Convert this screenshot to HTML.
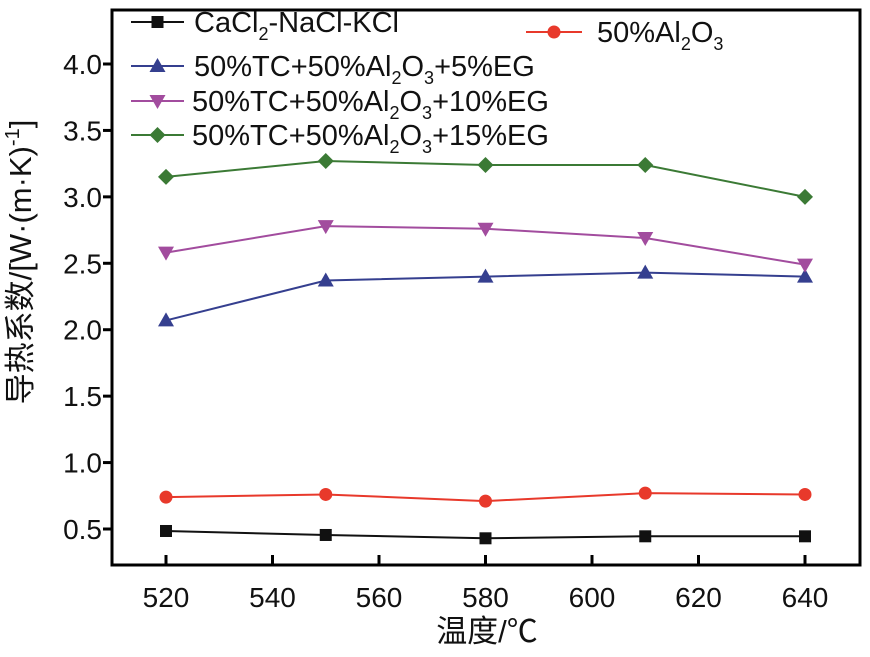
<!DOCTYPE html>
<html><head><meta charset="utf-8"><style>
body{margin:0;background:#fff;}
svg text{font-family:"Liberation Sans","Noto Sans CJK SC",sans-serif;}
</style></head><body>
<svg width="870" height="652" viewBox="0 0 870 652" xmlns="http://www.w3.org/2000/svg">
<g id="plot"></g>
</svg>
<script>
const xValues=[520,550,580,610,640];
const seriesBase=[0.485,0.455,0.43,0.445,0.445];
const seriesAl2O3=[0.74,0.76,0.71,0.77,0.76];
const seriesEG5=[2.07,2.37,2.40,2.43,2.40];
const seriesEG10=[2.58,2.78,2.76,2.69,2.49];
const seriesEG15=[3.15,3.27,3.24,3.24,3.00];
const xTicks=[520,540,560,580,600,620,640];
const yTicks=[0.5,1.0,1.5,2.0,2.5,3.0,3.5,4.0];

const NS="http://www.w3.org/2000/svg";
const g=document.getElementById('plot');
const L=112,R=860,T=10,B=565;
const xs=v=>166+(v-520)*(805-166)/120;
const ys=v=>529-(v-0.5)*(529-64)/3.5;
function el(t,a,p){const e=document.createElementNS(NS,t);for(const k in a)e.setAttribute(k,a[k]);(p||g).appendChild(e);return e;}

const frame=el('rect',{x:L,y:T,width:R-L,height:B-T,fill:'none',stroke:'#000','stroke-width':3});



xTicks.forEach(v=>{
  const t=el('line',{x1:xs(v),x2:xs(v),y1:B,y2:B-10,stroke:'#000','stroke-width':3});
  
  
  const tx=el('text',{x:xs(v),y:B+42,'font-size':28,'text-anchor':'middle',fill:'#111'});
  tx.textContent=v;
  
  
});
yTicks.forEach(v=>{
  const t=el('line',{x1:L,x2:L-9,y1:ys(v),y2:ys(v),stroke:'#000','stroke-width':3});
  
  
  const tx=el('text',{x:L-10,y:ys(v)+10,'font-size':28,'text-anchor':'end',fill:'#111'});
  tx.textContent=v.toFixed(1);
  
  
});

const xt=el('text',{x:487,y:642,'font-size':31,'text-anchor':'middle',fill:'#111','font-family':'"Liberation Serif","Noto Serif CJK SC",serif'});
xt.textContent='温度/℃';


const yt=el('text',{x:0,y:0,'font-size':31,'text-anchor':'middle',fill:'#111',transform:'translate(31,262) rotate(-90)','font-family':'"Liberation Serif","Noto Serif CJK SC",serif'});
yt.innerHTML='导热系数/[W·(m·K)<tspan dy="-12" font-size="20">-1</tspan><tspan dy="12">]</tspan>';



function marker(type,x,y,c,parent){
  let m;
  if(type==='sq')m=el('rect',{x:x-6,y:y-6,width:12,height:12,fill:c},parent);
  else if(type==='ci')m=el('circle',{cx:x,cy:y,r:6.5,fill:c},parent);
  else if(type==='up')m=el('polygon',{points:`${x},${y-8} ${x-8},${y+6} ${x+8},${y+6}`,fill:c},parent);
  else if(type==='dn')m=el('polygon',{points:`${x},${y+8} ${x-8},${y-6} ${x+8},${y-6}`,fill:c},parent);
  else m=el('polygon',{points:`${x},${y-8} ${x+8},${y} ${x},${y+8} ${x-8},${y}`,fill:c},parent);
  return m;
}
const series=[
 {d:seriesBase,c:'#111',m:'sq',n:'series-cacl2-nacl-kcl'},
 {d:seriesAl2O3,c:'#e8392b',m:'ci',n:'series-50-al2o3'},
 {d:seriesEG5,c:'#353f8f',m:'up',n:'series-5-eg'},
 {d:seriesEG10,c:'#a24c9e',m:'dn',n:'series-10-eg'},
 {d:seriesEG15,c:'#3b7a35',m:'di',n:'series-15-eg'}
];
series.forEach(s=>{
  const grp=el('g',{});
  
  
  const pl=el('polyline',{points:s.d.map((v,i)=>xs(xValues[i])+','+ys(v)).join(' '),fill:'none',stroke:s.c,'stroke-width':2},grp);
  
  
  s.d.forEach((v,i)=>{
    const mk=marker(s.m,xs(xValues[i]),ys(v),s.c,grp);
    
    
  });
});

const leg=[
 {x:131,y:22,w:53,tx:194,i:0,html:'CaCl<tspan dy="8" font-size="18">2</tspan><tspan dy="-8">-NaCl-KCl</tspan>'},
 {x:526,y:32,w:56,tx:597,i:1,html:'50%Al<tspan dy="8" font-size="18">2</tspan><tspan dy="-8">O</tspan><tspan dy="8" font-size="18">3</tspan>'},
 {x:131,y:66,w:53,tx:194,i:2,html:'50%TC+50%Al<tspan dy="8" font-size="18">2</tspan><tspan dy="-8">O</tspan><tspan dy="8" font-size="18">3</tspan><tspan dy="-8">+5%EG</tspan>'},
 {x:131,y:101,w:53,tx:192,i:3,html:'50%TC+50%Al<tspan dy="8" font-size="18">2</tspan><tspan dy="-8">O</tspan><tspan dy="8" font-size="18">3</tspan><tspan dy="-8">+10%EG</tspan>'},
 {x:131,y:135,w:53,tx:192,i:4,html:'50%TC+50%Al<tspan dy="8" font-size="18">2</tspan><tspan dy="-8">O</tspan><tspan dy="8" font-size="18">3</tspan><tspan dy="-8">+15%EG</tspan>'}
];
leg.forEach(e=>{
  const s=series[e.i];
  const grp=el('g',{});
  
  
  el('line',{x1:e.x,x2:e.x+e.w,y1:e.y,y2:e.y,stroke:s.c,'stroke-width':2},grp);
  marker(s.m,e.x+e.w/2,e.y,s.c,grp);
  const t=el('text',{x:e.tx,y:e.y+10,'font-size':29,fill:'#111'},grp);
  t.innerHTML=e.html;
});
</script>
</body></html>
